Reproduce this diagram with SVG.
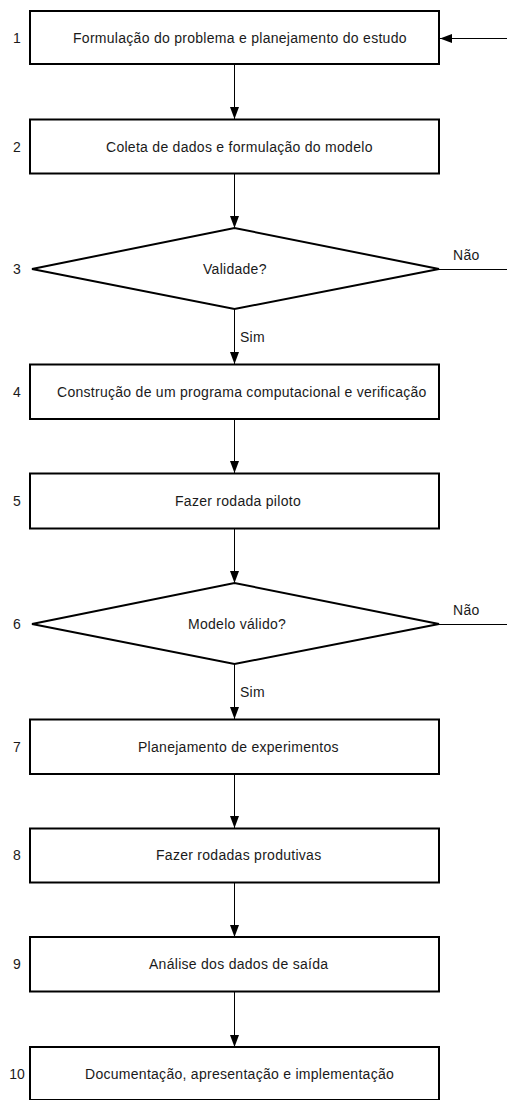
<svg xmlns="http://www.w3.org/2000/svg" width="507" height="1100" viewBox="0 0 507 1100">
<style>
.box{fill:#fff;stroke:#000;stroke-width:2}
.t{font-family:"Liberation Sans",Arial,sans-serif;font-size:14px;fill:#1a1a1a;letter-spacing:0.28px}
.n{font-family:"Liberation Sans",Arial,sans-serif;font-size:14px;fill:#1a1a1a;text-anchor:middle}
.c{stroke:#000;stroke-width:1;fill:none}
</style>
<defs>
<marker id="ah" markerUnits="userSpaceOnUse" markerWidth="13" markerHeight="9" refX="12" refY="4.5" orient="auto">
<path d="M0,0 L12,4.5 L0,9 Z" fill="#000"/>
</marker>
</defs>
<rect width="507" height="1100" fill="#fff"/>
<g id="connectors">
<line class="c" x1="234.5" y1="64" x2="234.5" y2="119" marker-end="url(#ah)"/>
<line class="c" x1="234.5" y1="173" x2="234.5" y2="228" marker-end="url(#ah)"/>
<line class="c" x1="234.5" y1="309" x2="234.5" y2="364" marker-end="url(#ah)"/>
<line class="c" x1="234.5" y1="419" x2="234.5" y2="473" marker-end="url(#ah)"/>
<line class="c" x1="234.5" y1="528" x2="234.5" y2="583" marker-end="url(#ah)"/>
<line class="c" x1="234.5" y1="664" x2="234.5" y2="719" marker-end="url(#ah)"/>
<line class="c" x1="234.5" y1="774" x2="234.5" y2="828" marker-end="url(#ah)"/>
<line class="c" x1="234.5" y1="882" x2="234.5" y2="937" marker-end="url(#ah)"/>
<line class="c" x1="234.5" y1="992" x2="234.5" y2="1047" marker-end="url(#ah)"/>
<line class="c" x1="507" y1="38.5" x2="440" y2="38.5" marker-end="url(#ah)"/>
<line class="c" x1="439" y1="269.5" x2="507" y2="269.5"/>
<line class="c" x1="439" y1="624.5" x2="507" y2="624.5"/>
<text class="t" x="240" y="342">Sim</text>
<text class="t" x="453" y="260">Não</text>
<text class="t" x="240" y="697">Sim</text>
<text class="t" x="453" y="615">Não</text>
</g>
<g id="n1"><rect class="box" x="30" y="11" width="409" height="53"/><text class="n" x="17" y="42.5">1</text><text class="t" x="73" y="42.5">Formulação do problema e planejamento do estudo</text></g>
<g id="n2"><rect class="box" x="30" y="119.5" width="409" height="54"/><text class="n" x="17" y="151.5">2</text><text class="t" x="106" y="151.5">Coleta de dados e formulação do modelo</text></g>
<g id="n3"><polygon class="box" points="32,269 234.5,228 439,269 234.5,309"/><text class="n" x="17" y="274">3</text><text class="t" x="203" y="274">Validade?</text></g>
<g id="n4"><rect class="box" x="30" y="364.5" width="409" height="54.5"/><text class="n" x="17" y="397">4</text><text class="t" x="57" y="397">Construção de um programa computacional e verificação</text></g>
<g id="n5"><rect class="box" x="30" y="473.5" width="409" height="55"/><text class="n" x="17" y="506">5</text><text class="t" x="175" y="506">Fazer rodada piloto</text></g>
<g id="n6"><polygon class="box" points="32,624 234.5,583 439,624 234.5,664"/><text class="n" x="17" y="629">6</text><text class="t" x="188" y="629">Modelo válido?</text></g>
<g id="n7"><rect class="box" x="30" y="719.5" width="409" height="54.5"/><text class="n" x="17" y="751.5">7</text><text class="t" x="138" y="751.5">Planejamento de experimentos</text></g>
<g id="n8"><rect class="box" x="30" y="828.5" width="409" height="54"/><text class="n" x="17" y="860">8</text><text class="t" x="156" y="860">Fazer rodadas produtivas</text></g>
<g id="n9"><rect class="box" x="30" y="937" width="409" height="54.5"/><text class="n" x="17" y="969">9</text><text class="t" x="149" y="969">Análise dos dados de saída</text></g>
<g id="n10"><rect class="box" x="30" y="1047" width="409" height="53"/><text class="n" x="17" y="1079">10</text><text class="t" x="85" y="1079">Documentação, apresentação e implementação</text></g>
</svg>
